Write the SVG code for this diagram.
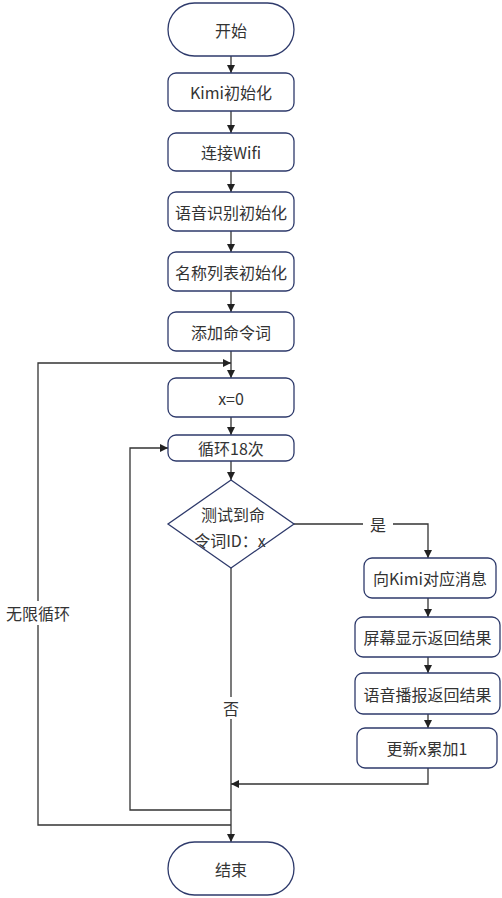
<svg xmlns="http://www.w3.org/2000/svg" width="502" height="898" viewBox="0 0 502 898">
<style>
.n{fill:#fff;stroke:#2e3a6b;stroke-width:1.3}
.t{font-family:"Noto Sans CJK SC","Liberation Sans",sans-serif;font-size:16px;fill:#333;text-anchor:middle;dominant-baseline:central}
.c{fill:none;stroke:#333;stroke-width:1.3}
</style>
<defs>
<marker id="a" viewBox="0 0 10 10" refX="10" refY="5" markerWidth="8" markerHeight="8" markerUnits="userSpaceOnUse" orient="auto">
<path d="M0,0L10,5L0,10z" fill="#222"/>
</marker>
</defs>
<rect width="502" height="898" fill="#fff"/>
<g id="connectors">
<path class="c" d="M231,56V73" marker-end="url(#a)"/>
<path class="c" d="M231,111V133" marker-end="url(#a)"/>
<path class="c" d="M231,171V192" marker-end="url(#a)"/>
<path class="c" d="M231,231V252" marker-end="url(#a)"/>
<path class="c" d="M231,291V312" marker-end="url(#a)"/>
<path class="c" d="M231,351V378" marker-end="url(#a)"/>
<path class="c" d="M231,417V435" marker-end="url(#a)"/>
<path class="c" d="M231,461V480" marker-end="url(#a)"/>
<path class="c" d="M294,524H428V558" marker-end="url(#a)"/>
<path class="c" d="M428,598V617" marker-end="url(#a)"/>
<path class="c" d="M428,657V673" marker-end="url(#a)"/>
<path class="c" d="M428,714V728" marker-end="url(#a)"/>
<path class="c" d="M428,768V784H231" marker-end="url(#a)"/>
<path class="c" d="M231,568V842" marker-end="url(#a)"/>
<path class="c" d="M231,810H130V448H168" marker-end="url(#a)"/>
<path class="c" d="M231,825H38V363H231" marker-end="url(#a)"/>
<rect x="363" y="514" width="30" height="20" fill="#fff"/>
<text class="t" x="378" y="524">是</text>
<rect x="219" y="697" width="24" height="22" fill="#fff"/>
<text class="t" x="231" y="708">否</text>
<rect x="4" y="601" width="68" height="24" fill="#fff"/>
<text class="t" x="38" y="613">无限循环</text>
</g>
<g id="start"><rect class="n" x="168" y="3" width="126" height="53" rx="26.5"/><text class="t" x="231" y="29.5">开始</text></g>
<g id="kimi-init"><rect class="n" x="168" y="73" width="126" height="38" rx="8"/><text class="t" x="231" y="92">Kimi初始化</text></g>
<g id="wifi"><rect class="n" x="168" y="133" width="126" height="38" rx="8"/><text class="t" x="231" y="152">连接Wifi</text></g>
<g id="asr-init"><rect class="n" x="168" y="192" width="126" height="39" rx="8"/><text class="t" x="231" y="211.5">语音识别初始化</text></g>
<g id="list-init"><rect class="n" x="168" y="252" width="126" height="39" rx="8"/><text class="t" x="231" y="271.5">名称列表初始化</text></g>
<g id="add-cmd"><rect class="n" x="168" y="312" width="126" height="39" rx="8"/><text class="t" x="231" y="331.5">添加命令词</text></g>
<g id="x0"><rect class="n" x="168" y="378" width="126" height="39" rx="8"/><text class="t" x="231" y="397.5">x=0</text></g>
<g id="loop18"><rect class="n" x="168" y="435" width="126" height="26" rx="8"/><text class="t" x="231" y="448">循环18次</text></g>
<g id="decision"><path class="n" d="M231,480L294,524L231,568L168,524Z"/><text class="t" x="233" y="514">测试到命</text><text class="t" x="230" y="540">令词ID：x</text></g>
<g id="kimi-msg"><rect class="n" x="364" y="558" width="132" height="40" rx="8"/><text class="t" x="430" y="578">向Kimi对应消息</text></g>
<g id="screen"><rect class="n" x="355" y="617" width="145" height="40" rx="8"/><text class="t" x="427.5" y="637">屏幕显示返回结果</text></g>
<g id="tts"><rect class="n" x="355" y="673" width="145" height="41" rx="8"/><text class="t" x="427.5" y="693.5">语音播报返回结果</text></g>
<g id="update-x"><rect class="n" x="357" y="728" width="140" height="40" rx="8"/><text class="t" x="427" y="748">更新x累加1</text></g>
<g id="end"><rect class="n" x="168" y="842" width="126" height="53" rx="26.5"/><text class="t" x="231" y="868.5">结束</text></g>
</svg>
